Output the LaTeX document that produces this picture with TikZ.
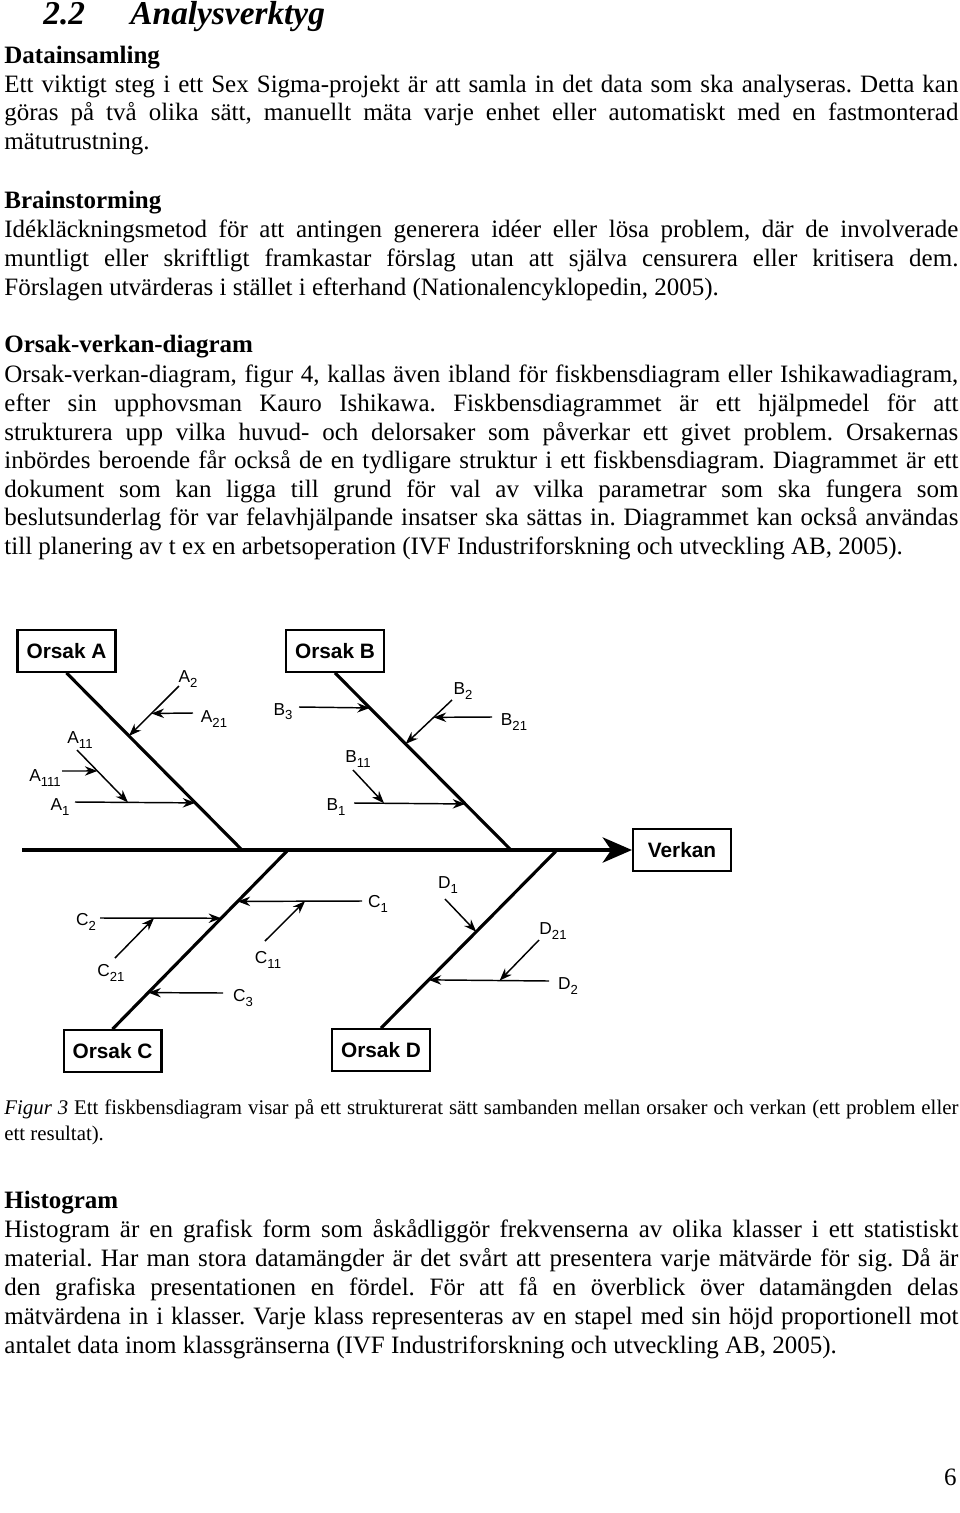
\documentclass[tikz,border=0pt]{standalone}
\usepackage{fontspec}
\setmainfont{Liberation Serif}
\setsansfont{Liberation Sans}
\usetikzlibrary{arrows.meta}
\frenchspacing
\newlength{\textw}\setlength{\textw}{457.9pt}
\newcommand{\jline}[1]{\makebox[\textw][s]{#1}}
\newcommand{\bsub}[1]{\raisebox{-0.45ex}{\fontsize{6.3}{7}\selectfont #1}}
\tikzset{
  body/.style={anchor=base west,inner sep=0pt,font=\fontsize{12}{13.8}\selectfont},
  head/.style={anchor=base west,inner sep=0pt,font=\fontsize{12}{13.8}\selectfont\bfseries},
  capt/.style={anchor=base west,inner sep=0pt,font=\fontsize{10}{12}\selectfont},
  orsak/.style={draw,line width=1pt,inner sep=0pt,minimum width=47pt,minimum height=20pt,
    font=\sffamily\bfseries\fontsize{10}{12}\selectfont},
  lbl/.style={inner sep=0pt,font=\sffamily\fontsize{8.3}{9}\selectfont},
  spine/.style={line width=1.5pt},
  bone/.style={-{Stealth[length=6pt,width=4.5pt]},line width=0.7pt},
}

\begin{document}
\begin{tikzpicture}[x=0.48pt,y=-0.48pt]
\useasboundingbox (0,0) rectangle (960,1513);
% \draw[help lines,step=100] (0,0) grid (960,1513);
\node (title) [anchor=base west,inner sep=0pt,font=\fontsize{16}{19}\selectfont\bfseries\itshape]
  at (43,25) {\makebox[41.8pt][l]{2.2}Analysverktyg};
%
\node (hdata) [head] at (4,63) {Datainsamling};
\node (data1) [body] at (4,92) {\jline{Ett viktigt steg i ett Sex Sigma-projekt är att samla in det data som ska analyseras. Detta kan}};
\node (data2) [body] at (4,120) {\jline{göras på två olika sätt, manuellt mäta varje enhet eller automatiskt med en fastmonterad}};
\node (data3) [body] at (4,149) {mätutrustning.};
%
\node (hbrain) [head] at (4,208) {Brainstorming};
\node (brain1) [body] at (4,237) {\jline{Idékläckningsmetod för att antingen generera idéer eller lösa problem, där de involverade}};
\node (brain2) [body] at (4,266) {\jline{muntligt eller skriftligt framkastar förslag utan att själva censurera eller kritisera dem.}};
\node (brain3) [body] at (4,295) {Förslagen utvärderas i stället i efterhand (Nationalencyklopedin, 2005).};
%
\node (horsak) [head] at (4,352) {Orsak-verkan-diagram};
\node (orsak1) [body] at (4,382) {\jline{Orsak-verkan-diagram, figur 4, kallas även ibland för fiskbensdiagram eller Ishikawadiagram,}};
\node (orsak2) [body] at (4,411) {\jline{efter sin upphovsman Kauro Ishikawa. Fiskbensdiagrammet är ett hjälpmedel för att}};
\node (orsak3) [body] at (4,440) {\jline{strukturera upp vilka huvud- och delorsaker som påverkar ett givet problem. Orsakernas}};
\node (orsak4) [body] at (4,468) {\jline{inbördes beroende får också de en tydligare struktur i ett fiskbensdiagram. Diagrammet är ett}};
\node (orsak5) [body] at (4,497) {\jline{dokument som kan ligga till grund för val av vilka parametrar som ska fungera som}};
\node (orsak6) [body] at (4,525) {\jline{beslutsunderlag för var felavhjälpande insatser ska sättas in. Diagrammet kan också användas}};
\node (orsak7) [body] at (4,554) {till planering av t ex en arbetsoperation (IVF Industriforskning och utveckling AB, 2005).};

% fiskbensdiagram
\node (oa) [orsak] at (66.5,651) {Orsak A};
\node (ob) [orsak] at (335,651) {Orsak B};
\node (oc) [orsak] at (112.5,1051) {Orsak C};
\node (od) [orsak] at (381,1050) {Orsak D};
\node (verkan) [orsak] at (682,850) {Verkan};
\coordinate (tail) at (22,850);
\coordinate (ja) at (242,850);
\coordinate (jb) at (511,850);
\coordinate (jc) at (288,850);
\coordinate (jd) at (557,850);
\draw[line width=2.2pt,-{Stealth[length=14pt,width=12pt,inset=4pt]}] (tail) -- (verkan.west);
\draw[spine] (oa.south) -- coordinate[pos=.356] (a2) coordinate[pos=.734] (a1) (ja);
\draw[spine] (ob.south) -- coordinate[pos=.198] (b3) coordinate[pos=.401] (b2) coordinate[pos=.740] (b1) (jb);
\draw[spine] (oc.north) -- coordinate[pos=.204] (c3) coordinate[pos=.619] (c2) coordinate[pos=.713] (c1) (jc);
\draw[spine] (od.north) -- coordinate[pos=.271] (d2) coordinate[pos=.541] (d1) (jd);
%
\coordinate (a1s) at (75,802);
\coordinate (a11s) at (77,750);
\coordinate (a111s) at (62,771);
\coordinate (a2s) at (179,686);
\coordinate (a21s) at (193,713);
\draw[bone] (a1s) -- coordinate[pos=.44] (a11) (a1);
\draw[bone] (a11s) -- coordinate[pos=.40] (a111) (a11);
\draw[bone] (a111s) -- (a111);
\draw[bone] (a2s) -- coordinate[pos=.55] (a21) (a2);
\draw[bone] (a21s) -- (a21);
\node (la1) [lbl] at (60,807) {A\bsub{1}};
\node (la11) [lbl] at (80,740) {A\bsub{11}};
\node (la111) [lbl] at (45,778) {A\bsub{111}};
\node (la2) [lbl] at (188,679) {A\bsub{2}};
\node (la21) [lbl] at (214,719) {A\bsub{21}};
%
\coordinate (b1s) at (354,803);
\coordinate (b11s) at (353,770);
\coordinate (b2s) at (452,700);
\coordinate (b21s) at (492,717);
\coordinate (b3s) at (299,707);
\draw[bone] (b1s) -- coordinate[pos=.27] (b11) (b1);
\draw[bone] (b11s) -- (b11);
\draw[bone] (b2s) -- coordinate[pos=.395] (b21) (b2);
\draw[bone] (b21s) -- (b21);
\draw[bone] (b3s) -- (b3);
\node (lb1) [lbl] at (336,807) {B\bsub{1}};
\node (lb11) [lbl] at (358,759) {B\bsub{11}};
\node (lb2) [lbl] at (463,691) {B\bsub{2}};
\node (lb21) [lbl] at (514,722) {B\bsub{21}};
\node (lb3) [lbl] at (283,712) {B\bsub{3}};
%
\coordinate (c1s) at (362,901);
\coordinate (c11s) at (265,941);
\coordinate (c2s) at (100,918);
\coordinate (c21s) at (115,958);
\coordinate (c3s) at (223,993);
\draw[bone] (c1s) -- coordinate[pos=.458] (c11) (c1);
\draw[bone] (c11s) -- (c11);
\draw[bone] (c2s) -- coordinate[pos=.446] (c21) (c2);
\draw[bone] (c21s) -- (c21);
\draw[bone] (c3s) -- (c3);
\node (lc1) [lbl] at (378,904) {C\bsub{1}};
\node (lc11) [lbl] at (268,960) {C\bsub{11}};
\node (lc2) [lbl] at (86,922) {C\bsub{2}};
\node (lc21) [lbl] at (111,973) {C\bsub{21}};
\node (lc3) [lbl] at (243,998) {C\bsub{3}};
%
\coordinate (d1s) at (445,899);
\coordinate (d2s) at (549,981);
\coordinate (d21s) at (539,940);
\draw[bone] (d1s) -- (d1);
\draw[bone] (d2s) -- coordinate[pos=.41] (d21) (d2);
\draw[bone] (d21s) -- (d21);
\node (ld1) [lbl] at (448,885) {D\bsub{1}};
\node (ld2) [lbl] at (568,986) {D\bsub{2}};
\node (ld21) [lbl] at (553,931) {D\bsub{21}};

% figurtext
\node (cap1) [capt] at (4,1114) {\jline{\textit{Figur 3} Ett fiskbensdiagram visar på ett strukturerat sätt sambanden mellan orsaker och verkan (ett problem eller}};
\node (cap2) [capt] at (4,1140) {ett resultat).};
%
\node (hhist) [head] at (4,1208) {Histogram};
\node (hist1) [body] at (4,1237) {\jline{Histogram är en grafisk form som åskådliggör frekvenserna av olika klasser i ett statistiskt}};
\node (hist2) [body] at (4,1266) {\jline{material. Har man stora datamängder är det svårt att presentera varje mätvärde för sig. Då är}};
\node (hist3) [body] at (4,1295) {\jline{den grafiska presentationen en fördel. För att få en överblick över datamängden delas}};
\node (hist4) [body] at (4,1324) {\jline{mätvärdena in i klasser. Varje klass representeras av en stapel med sin höjd proportionell mot}};
\node (hist5) [body] at (4,1353) {antalet data inom klassgränserna (IVF Industriforskning och utveckling AB, 2005).};
%
\node (pagenr) [anchor=base east,inner sep=0pt,font=\fontsize{12}{13.8}\selectfont] at (957,1485) {6};
\end{tikzpicture}
\end{document}
